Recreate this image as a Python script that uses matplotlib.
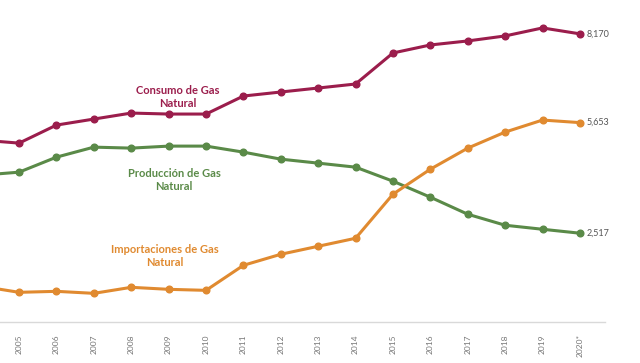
import matplotlib.pyplot as plt

plt.rcParams['font.family'] = ['Lato', 'DejaVu Sans']

years = list(range(2004, 2021))
year_labels = [str(y) for y in years[:-1]] + ['2020*']

consumo = [5157, 5072, 5583, 5754, 5924, 5896, 5896, 6407, 6521, 6634,
           6748, 7628, 7855, 7969, 8111, 8338, 8170]
produccion = [4163, 4248, 4674, 4958, 4930, 4987, 4987, 4816, 4617, 4504,
              4390, 3992, 3538, 3055, 2743, 2629, 2517]
importaciones = [1011, 841, 869, 812, 983, 926, 897, 1607, 1920, 2147,
                 2374, 3624, 4333, 4930, 5385, 5726, 5653]

c_cons = '#9b1d4c'
c_prod = '#5a8a48'
c_imp = '#e08a30'

fig = plt.figure(figsize=(6.4, 3.63), dpi=100)
ax = fig.add_axes([0.0, 0.113, 605 / 640, 0.887])

for vals, col in [(consumo, c_cons), (produccion, c_prod), (importaciones, c_imp)]:
    ax.plot(years, vals, color=col, lw=2.2, marker='o', markersize=4.8)
    ax.annotate(f'{vals[-1]:,}', (years[-1], vals[-1]), xytext=(5, 0),
                textcoords='offset points', va='center', ha='left',
                fontsize=6.5, color='#555555', annotation_clip=False)

ax.text(2009.25, 6379, 'Consumo de Gas\nNatural', color=c_cons, fontsize=8,
        fontweight='bold', ha='center', va='center', linespacing=1.25)
ax.text(2009.15, 4021, 'Producción de Gas\nNatural', color=c_prod, fontsize=8,
        fontweight='bold', ha='center', va='center', linespacing=1.25)
ax.text(2008.9, 1863, 'Importaciones de Gas\nNatural', color=c_imp, fontsize=8,
        fontweight='bold', ha='center', va='center', linespacing=1.25)

ax.set_xlim(2004.49, 2020.67)
ax.set_ylim(0, 9130)
ax.set_xticks(years[1:])
ax.set_xticklabels(year_labels[1:], rotation=90, fontsize=6, color='#777777')
ax.tick_params(axis='x', length=0, pad=9)
ax.set_yticks([])
for s in ['top', 'right', 'left']:
    ax.spines[s].set_visible(False)
ax.spines['bottom'].set_color('#d9d9d9')
ax.spines['bottom'].set_linewidth(1)

fig.savefig('out.png', dpi=100)
